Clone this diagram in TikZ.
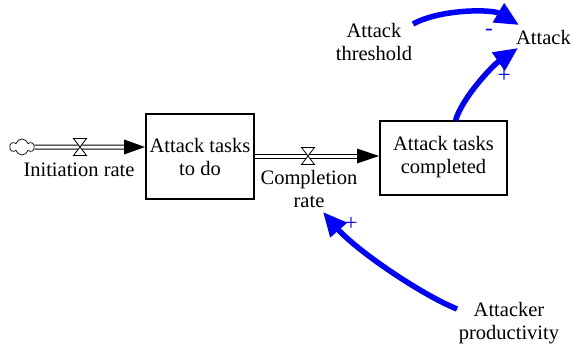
\documentclass[tikz,border=0pt]{standalone}
\usepackage{fontspec}
\setmainfont{Liberation Serif}
\usetikzlibrary{arrows.meta,shapes.symbols,calc}
\tikzset{
  lbl/.style={inner sep=0pt, align=center, font=\fontsize{20.5}{23}\selectfont},
  stock/.style={draw, line width=2pt, inner sep=0pt},
  pipe/.style={double, double distance=3pt, line width=1pt},
  valve/.style={draw, fill=white, line width=0.8pt},
  link/.style={draw=blue, line width=5.5pt, -{Triangle[length=24pt,width=21pt]}},
  pol/.style={text=blue, inner sep=0pt, font=\fontsize{23}{23}\selectfont},
}
\begin{document}
\begin{tikzpicture}[x=1pt,y=-1pt]
\useasboundingbox (0,0) rectangle (571,345);
% stocks
\node[stock, minimum width=108pt, minimum height=85pt] (b1) at (200,156.5) {};
\node[lbl] (b1t) at (200,157) {Attack tasks\\to do};
\node[stock, minimum width=127pt, minimum height=73pt] (b2) at (443.5,158) {};
\node[lbl] (b2t) at (443.5,157) {Attack tasks\\completed};
% cloud
\node[cloud, draw, cloud puffs=6, minimum width=24pt, minimum height=16pt, inner sep=0pt, line width=0.7pt] (cl) at (22,147) {};
% pipe 1
\coordinate (p1e) at (126,147);
\draw[pipe] (cl.east) -- (p1e);
\coordinate (t1) at (b1.west |- cl);
\fill (t1) -- ++(-21,-7.5) -- ++(0,15) -- cycle;
\coordinate (v1) at (80,147);
\draw[valve] ($(v1)+(-6.5,-8.5)$) -- ($(v1)+(6.5,-8.5)$) -- ($(v1)+(-6.5,8.5)$) -- ($(v1)+(6.5,8.5)$) -- cycle;
\node[lbl] (ir) at (79,170) {Initiation rate};
% pipe 2
\coordinate (p2s) at (b1.east |- 0,156);
\coordinate (p2e) at (359,156);
\draw[pipe] (p2s) -- (p2e);
\coordinate (t2) at (b2.west |- p2s);
\fill (t2) -- ++(-22,-7.5) -- ++(0,15) -- cycle;
\coordinate (v2) at (308,156);
\draw[valve] ($(v2)+(-6.5,-8.5)$) -- ($(v2)+(6.5,-8.5)$) -- ($(v2)+(-6.5,8.5)$) -- ($(v2)+(6.5,8.5)$) -- cycle;
\node[lbl] (cr) at (309,189) {Completion\\rate};
% auxiliaries
\node[lbl] (atk) at (543.5,37) {Attack};
\node[lbl] (thr) at (374,42) {Attack\\threshold};
\node[lbl] (prod) at (509,323) {Attacker\\productivity};
% links
\coordinate (a1s) at (413,24);
\coordinate (a1e) at (519,25);
\draw[link] (a1s) .. controls (440,9) and (492,9) .. (a1e);
\node[pol] at (489,32) {-};
\coordinate (a2s) at ([xshift=12pt]b2.north);
\coordinate (a2e) at (518,48);
\draw[link] (a2s) .. controls (462,98) and (492,66) .. (a2e);
\node[pol] at (504,76) {+};
\coordinate (a3s) at (457,309);
\coordinate (a3e) at (323,212);
\draw[link] (a3s) .. controls (420,294) and (356,250) .. (a3e);
\node[pol] at (351,224) {+};
\end{tikzpicture}
\end{document}
